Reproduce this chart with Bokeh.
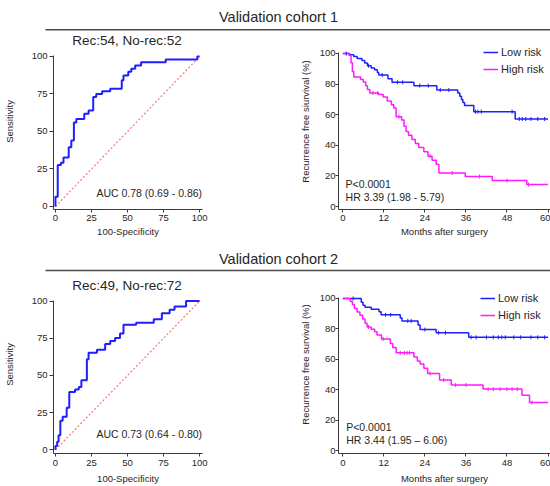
import numpy as np
from bokeh.plotting import figure
from bokeh.layouts import column, row
from bokeh.models import Range1d, Label, Legend, LegendItem, FixedTicker
from bokeh.embed import file_html
from bokeh.resources import INLINE

FONT = "Liberation Sans"

# ---------------- data ----------------
cohort_titles = ["Validation cohort 1", "Validation cohort 2"]
roc_titles = ["Rec:54, No-rec:52", "Rec:49, No-rec:72"]
auc_texts = ["AUC 0.78 (0.69 - 0.86)", "AUC 0.73 (0.64 - 0.80)"]
p_texts = ["P<0.0001", "P<0.0001"]
hr_texts = ["HR 3.39 (1.98 - 5.79)", "HR 3.44 (1.95 \u2013 6.06)"]
km_ylabels = ["Recurrence free siurvival (%)", "Recurrence free survival (%)"]
roc_xlabel = "100-Specificity"
roc_ylabel = "Sensitivity"
km_xlabel = "Months after surgery"
legend_labels = ["Low risk", "High risk"]
roc_ticks = [0, 25, 50, 75, 100]
km_xticks = [0, 12, 24, 36, 48, 60]
km_yticks = [0, 20, 40, 60, 80, 100]

# ROC curves (100-specificity, sensitivity) corner points
roc1_fpr = [0, 0, 1.6, 3.8, 5.6, 9.2, 11, 12.8, 14.5, 20, 23, 26.2, 28.3, 32.4, 38, 46, 47.2, 50.5, 52.6, 55.3, 59.4, 76.5, 98.4, 100]
roc1_tpr = [0, 6.5, 27.7, 29.2, 32.7, 39.5, 44, 56, 58.4, 61.8, 64, 73, 75, 76.9, 78.5, 84.2, 87.3, 89.8, 91.8, 94, 96.2, 98, 100, 100]
roc2_fpr = [0, 0, 1.2, 2.2, 3.4, 5, 7.8, 9.6, 13.6, 16.2, 18, 21.8, 23, 28.8, 34.5, 38, 41.4, 44.8, 47.2, 56, 68.2, 73.8, 79.2, 82.6, 90.6, 100]
roc2_tpr = [0, 2.5, 5.5, 9.8, 19.6, 22.2, 28.3, 38.8, 40.5, 42.2, 46.8, 60.8, 65.2, 67.3, 71.2, 73.2, 75.2, 78.2, 84, 85.5, 87.8, 91.8, 94.2, 96.4, 100, 100]

# Kaplan-Meier curves (months, survival %)
km1_low_t = [0, 2.0, 3.2, 4.2, 5.6, 6.4, 7.2, 8.3, 9.3, 10.1, 10.5, 13.2, 14.4, 20.8, 27.5, 33.6, 34.2, 34.7, 35.1, 35.6, 38.3, 50.4, 60]
km1_low_s = [100, 99.2, 98, 96.8, 95.4, 93.8, 92, 90.6, 89.4, 87.6, 86, 83.5, 81.2, 79, 76.2, 74.2, 72, 70, 68, 66, 62, 57.2, 57.2]
km1_high_t = [0, 1.8, 2.4, 2.8, 3.2, 5.2, 6.0, 6.7, 7.2, 7.9, 10.5, 11.8, 13.0, 14.2, 14.9, 15.6, 17.2, 17.9, 18.5, 19.2, 20.2, 21.2, 22.2, 23.7, 24.9, 26.1, 27.3, 28.1, 35.8, 43.7, 53.8, 60]
km1_high_s = [100, 98.8, 94, 88.3, 84.6, 83, 81.3, 79, 76.4, 74.2, 73.2, 71.6, 68.9, 66.5, 64.3, 58.7, 56.5, 52.4, 49, 46.6, 43.8, 41.2, 38.6, 35.8, 32.9, 30.2, 27.6, 21.9, 19.6, 17.0, 14.3, 14.3]
km1_low_cens = [1.0, 7.5, 11.5, 16, 17.5, 22.5, 25, 28.5, 31, 38.8, 39.5, 40.5, 49.5, 51.6, 52.5, 53.5, 55, 57, 59]
km1_high_cens = [8.8, 10.2, 16.4, 25.5, 32, 40, 48, 54.3]

km2_low_t = [0, 5.4, 5.9, 6.5, 8.3, 10.6, 11.2, 16.8, 17.3, 22.0, 22.6, 27.3, 36.8, 60]
km2_low_s = [100, 97.6, 95.6, 94.3, 93, 91.3, 89.3, 87.2, 85.3, 82.6, 79.6, 77.5, 74.5, 74.5]
km2_high_t = [0, 2.2, 2.8, 3.4, 4.2, 5.0, 5.8, 6.5, 7.1, 8.3, 9.3, 10.0, 11.3, 13.9, 14.6, 15.6, 20.8, 21.8, 22.6, 23.7, 24.8, 28.3, 31.7, 41.0, 52.4, 54.6, 60]
km2_high_s = [100, 98, 96, 93.5, 91.2, 89, 86.5, 83.8, 81.3, 79.8, 78.2, 76, 73.4, 70.5, 67.8, 64.3, 61.6, 59, 57, 54.2, 50.8, 46.5, 43.2, 40.5, 36.4, 31.7, 31.7]
km2_low_cens = [3, 12.5, 14, 19, 20, 24, 28, 30, 37.5, 39, 42, 44, 45.5, 46.5, 47.5, 50, 52, 55, 57, 59]
km2_high_cens = [7.5, 11.8, 16.8, 18, 18.8, 19.5, 25.5, 29.5, 33, 36, 42.5, 44, 46, 48, 49.5, 51, 55.3]

# ---------------- styles ----------------
BLUE = "#1e1eff"
MAGENTA = "#ff1aff"
AXIS = "#3a3a3a"
TXT = "#262626"


def style_axes(p, xticks, yticks, xlabel, ylabel, ytick_out, ystand, ylab_stand, ybounds,
               xstand, xlab_stand):
    for ax in (p.xaxis[0], p.yaxis[0]):
        ax.axis_line_color = AXIS
        ax.axis_line_width = 1
        ax.major_tick_line_color = AXIS
        ax.minor_tick_line_color = None
        ax.major_tick_in = 0
        ax.major_label_text_font = FONT
        ax.major_label_text_font_size = "9.5px"
        ax.major_label_text_color = TXT
        ax.axis_label_text_font = FONT
        ax.axis_label_text_font_size = "9.5px"
        ax.axis_label_text_font_style = "normal"
        ax.axis_label_text_color = TXT
    p.xaxis[0].ticker = FixedTicker(ticks=xticks)
    p.yaxis[0].ticker = FixedTicker(ticks=yticks)
    p.yaxis[0].bounds = ybounds
    p.xaxis[0].axis_label = xlabel
    p.yaxis[0].axis_label = ylabel
    p.xaxis[0].major_tick_out = 3
    p.xaxis[0].major_label_standoff = xstand
    p.xaxis[0].axis_label_standoff = xlab_stand
    p.yaxis[0].major_tick_out = ytick_out
    p.yaxis[0].major_label_standoff = ystand
    p.yaxis[0].axis_label_standoff = ylab_stand
    p.xgrid.visible = False
    p.ygrid.visible = False
    p.outline_line_color = None


def title_strip(text, h, ty, ly):
    p = figure(width=550, height=h, x_range=Range1d(0, 550), y_range=Range1d(0, h),
               x_axis_type=None, y_axis_type=None, toolbar_location=None,
               output_backend="svg", min_border=0, min_border_left=0, min_border_right=0,
               min_border_top=0, min_border_bottom=0)
    p.outline_line_color = None
    p.xgrid.visible = False
    p.ygrid.visible = False
    p.add_layout(Label(x=278, y=ty, text=text, text_align="center", text_baseline="middle",
                       text_font=FONT, text_font_size="14.5px", text_color=TXT))
    p.segment(x0=[45], y0=[ly], x1=[550], y1=[ly], line_color="#4a4a4a", line_width=1.6)
    return p


def roc_plot(fpr, tpr, title, auc, h, bottom, yr, auc_y, title_y, xstand, xlab_stand):
    p = figure(width=275, height=h, x_range=Range1d(-1.34, 102.0), y_range=Range1d(*yr),
               toolbar_location=None, output_backend="svg",
               min_border_left=48, min_border_right=73, min_border_top=0, min_border_bottom=bottom)
    style_axes(p, roc_ticks, roc_ticks, roc_xlabel, roc_ylabel, 4, 2, 14, (yr[0], 100.5),
               xstand, xlab_stand)
    p.line(x=[roc_ticks[0], roc_ticks[-1]], y=[roc_ticks[0], roc_ticks[-1]],
           line_color="#f07b7b", line_dash="2 2", line_width=1.2)
    p.step(x=fpr, y=tpr, mode="after", line_color=BLUE, line_width=2)
    p.add_layout(Label(x=101.7, y=auc_y, text=auc, text_align="right", text_baseline="middle",
                       text_font=FONT, text_font_size="10.5px", text_color=TXT))
    p.add_layout(Label(x=49.7, y=title_y, text=title, text_align="center", text_baseline="middle",
                       text_font=FONT, text_font_size="13.5px", text_color=TXT))
    return p


def surv_at(t, s, c):
    idx = np.searchsorted(np.asarray(t), np.asarray(c), side="right") - 1
    return list(np.asarray(s)[idx])


def km_plot(lt, ls, ht, hs, lc, hc, ylabel, ptxt, hrtxt, h, bottom, yr, ytop, py, hy, px, leg_loc,
            xstand, xlab_stand):
    p = figure(width=275, height=h, x_range=Range1d(-1.26, 60.73), y_range=Range1d(*yr),
               toolbar_location=None, output_backend="svg",
               min_border_left=63, min_border_right=0, min_border_top=0, min_border_bottom=bottom)
    style_axes(p, km_xticks, km_yticks, km_xlabel, ylabel, 3, 0, 6, (yr[0], ytop),
               xstand, xlab_stand)
    r_low = p.step(x=lt, y=ls, mode="after", line_color=BLUE, line_width=1.5)
    r_high = p.step(x=ht, y=hs, mode="after", line_color=MAGENTA, line_width=1.5)
    p.scatter(x=lc, y=surv_at(lt, ls, lc), marker="dash", angle=np.pi / 2, size=4,
              line_color=BLUE, line_width=1)
    p.scatter(x=hc, y=surv_at(ht, hs, hc), marker="dash", angle=np.pi / 2, size=4,
              line_color=MAGENTA, line_width=1)
    p.add_layout(Label(x=px, y=py, text=ptxt, text_baseline="middle",
                       text_font=FONT, text_font_size="10.5px", text_color=TXT))
    p.add_layout(Label(x=px, y=hy, text=hrtxt, text_baseline="middle",
                       text_font=FONT, text_font_size="10.5px", text_color=TXT))
    leg = Legend(items=[LegendItem(label=legend_labels[0], renderers=[r_low]),
                        LegendItem(label=legend_labels[1], renderers=[r_high])],
                 location=leg_loc, padding=0, margin=0, spacing=3,
                 glyph_width=15, glyph_height=14, label_height=14, label_standoff=3,
                 label_text_font=FONT, label_text_font_size="11px", label_text_color=TXT,
                 border_line_color=None, background_fill_alpha=0)
    p.add_layout(leg)
    return p


t1 = title_strip(cohort_titles[0], 33, 17, 3.7)
roc1 = roc_plot(roc1_fpr, roc1_tpr, roc_titles[0], auc_texts[0], 210, 34, (-2, 115.33), 9.3, 110.7,
                2, 2)
km1 = km_plot(km1_low_t, km1_low_s, km1_high_t, km1_high_s, km1_low_cens, km1_high_cens,
              km_ylabels[0], p_texts[0], hr_texts[0], 210, 34, (-1.96, 113.07), 100.65,
              14.4, 5.9, 0.8, (145, 132.7), 2, 2)

t2 = title_strip(cohort_titles[1], 32, 17, 5)
roc2 = roc_plot(roc2_fpr, roc2_tpr, roc_titles[1], auc_texts[1], 211, 32, (-2.47, 117.18), 10.4, 110.5,
                3, 4)
km2 = km_plot(km2_low_t, km2_low_s, km2_high_t, km2_high_s, km2_low_cens, km2_high_cens,
              km_ylabels[1], p_texts[1], hr_texts[1], 211, 33, (-1.77, 115.1), 100.66,
              15.8, 7.0, 1.0, (142, 131.3), 3, 4)

layout = column(t1, row(roc1, km1), t2, row(roc2, km2))

open("out.html", "w").write(file_html(layout, INLINE))
